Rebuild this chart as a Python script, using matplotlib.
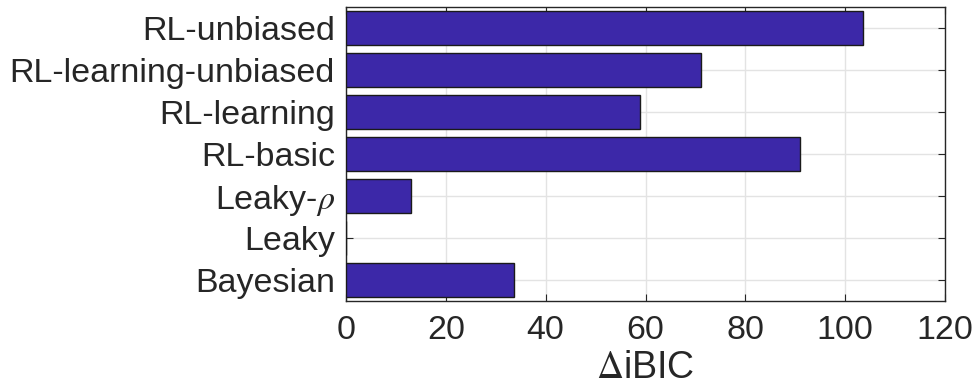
import matplotlib
matplotlib.use("Agg")
import matplotlib.pyplot as plt
import numpy as np

models = ["Bayesian", "Leaky", "Leaky-$\\rho$", "RL-basic", "RL-learning",
          "RL-learning-unbiased", "RL-unbiased"]
delta_ibic = [33.6, 0.0, 13.0, 91.0, 58.9, 71.1, 103.6]
x_ticks = [0, 20, 40, 60, 80, 100, 120]

plt.rcParams["font.family"] = ["Liberation Sans", "DejaVu Sans"]
plt.rcParams["mathtext.fontset"] = "stix"

fig = plt.figure(figsize=(9.76, 3.91), dpi=100)
ax = fig.add_axes([346 / 976, 1 - 301 / 391, 599 / 976, 294 / 391])

pos = np.arange(1, len(models) + 1)
ax.barh(pos, delta_ibic, height=0.8, color="#3c28a8", edgecolor="#1a1a1a",
        linewidth=1.0, zorder=3)

ax.set_xlim(0, 120)
ax.set_ylim(0.5, len(models) + 0.5)
ax.set_xticks(x_ticks)
ax.set_yticks(pos)
ax.set_yticklabels(models)
ax.tick_params(axis="both", direction="in", length=5, width=0.8,
               color="#262626", labelsize=24.5, labelcolor="#262626",
               top=True, right=True)
ax.tick_params(axis="x", pad=10)
ax.tick_params(axis="y", pad=8)
ax.grid(True, color="#e3e3e3", linewidth=1.0, zorder=0)
ax.set_axisbelow(True)
for s in ax.spines.values():
    s.set_color("#262626")
    s.set_linewidth(1.0)

ax.set_xlabel("$\\Delta$iBIC", fontsize=27, color="#262626", labelpad=3)

fig.savefig("out.png", dpi=100)
